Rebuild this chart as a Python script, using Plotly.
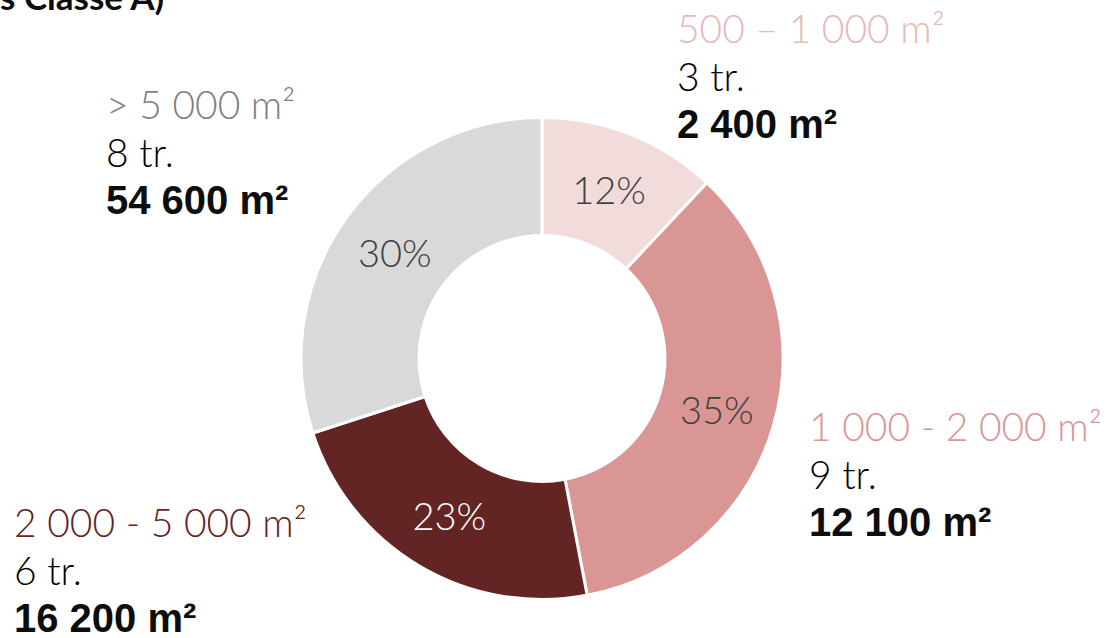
import plotly.graph_objects as go

# Data
categories = ["500 – 1 000 m²", "1 000 - 2 000 m²", "2 000 - 5 000 m²", "> 5 000 m²"]
shares = [12, 35, 23, 30]
transactions = ["3 tr.", "9 tr.", "6 tr.", "8 tr."]
surfaces = ["2 400 m²", "12 100 m²", "16 200 m²", "54 600 m²"]
title_text = "s Classe A)"

slice_colors = ["#F2DCDB", "#D99694", "#632523", "#D9D9D9"]
label_colors = ["#E6B9B8", "#D99694", "#632523", "#7F7F7F"]
pct_colors = ["#404040", "#404040", "#FFFFFF", "#404040"]

W, H = 1110, 638

def px(x):
    return x / W

def py(y):
    return 1 - y / H

fig = go.Figure()
fig.add_trace(go.Pie(
    labels=categories,
    values=shares,
    hole=0.51,
    sort=False,
    direction="clockwise",
    rotation=0,
    marker=dict(colors=slice_colors, line=dict(color="white", width=3)),
    texttemplate="%{value}%",
    textposition="inside",
    insidetextorientation="horizontal",
    textfont=dict(family="Lato", size=38, color=pct_colors, weight=300),
    showlegend=False,
    domain=dict(x=[px(301), px(783)], y=[py(600), py(117)]),
    hoverinfo="skip",
))

# label block positions (left x, center y of first line) in pixels
blocks = [(675, 28), (807, 426), (12, 522), (104, 104)]
line_gap = 48
ann = []
for i, (bx, by) in enumerate(blocks):
    ann.append(dict(x=px(bx), y=py(by), xref="paper", yref="paper", xanchor="left", yanchor="middle",
                    text=categories[i], showarrow=False,
                    font=dict(family="Lato", size=39, color=label_colors[i], weight=300)))
    ann.append(dict(x=px(bx), y=py(by + line_gap), xref="paper", yref="paper", xanchor="left", yanchor="middle",
                    text=transactions[i], showarrow=False,
                    font=dict(family="Lato", size=39, color="#000000", weight=300)))
    ann.append(dict(x=px(bx), y=py(by + 2 * line_gap), xref="paper", yref="paper", xanchor="left", yanchor="middle",
                    text="<b>" + surfaces[i] + "</b>", showarrow=False,
                    font=dict(family="Liberation Sans", size=40, color="#0D0D0D")))

ann.append(dict(x=px(166), y=py(-4), xref="paper", yref="paper", xanchor="right", yanchor="middle",
                text="<b>" + title_text + "</b>", showarrow=False,
                font=dict(family="Lato", size=35, color="#0D0D0D")))

fig.update_layout(
    width=W, height=H,
    margin=dict(l=0, r=0, t=0, b=0),
    paper_bgcolor="white", plot_bgcolor="white",
    annotations=ann,
)

fig.write_html("out.html", config={"displayModeBar": False},
               post_script="document.body.style.margin='0';")
